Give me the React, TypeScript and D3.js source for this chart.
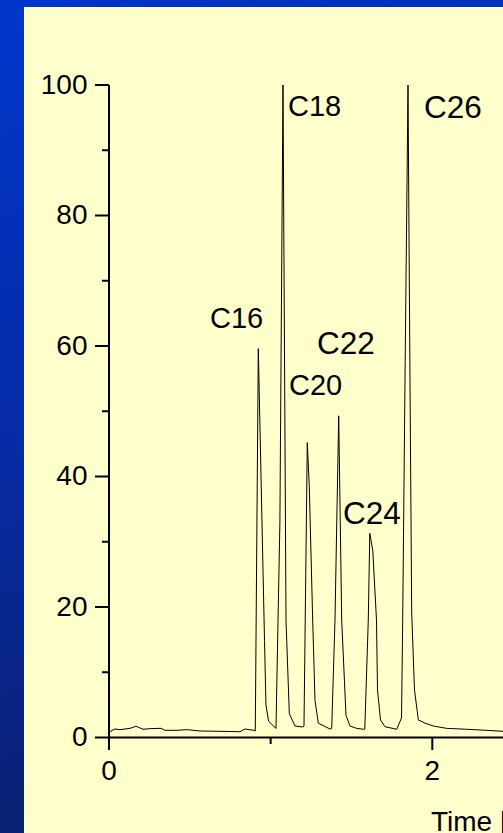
import React from "react";
import * as d3 from "d3";

// chromatogram trace
const times = [
  0.008, 0.0124, 0.0371, 0.068, 0.13, 0.167, 0.2103, 0.2536, 0.3217, 0.3464, 0.42, 0.482, 0.563, 0.68, 0.81,
  0.841, 0.897, 0.905, 0.9236, 0.962, 0.971, 0.987, 1.033, 1.0572, 1.0764, 1.095, 1.1154, 1.1506, 1.198,
  1.2063, 1.2267, 1.2391, 1.2601, 1.2743, 1.2948, 1.3672, 1.3777, 1.398, 1.421, 1.4395, 1.4661, 1.4909,
  1.5323, 1.5732, 1.5824, 1.604, 1.6133, 1.6319, 1.6548, 1.661, 1.6795, 1.7074, 1.7798, 1.8095, 1.8169,
  1.8311, 1.8497, 1.862, 1.8726, 1.8899, 1.9134, 1.9548, 2.0062, 2.089, 2.2128, 2.2951, 2.3569, 2.4374, 2.51,
];
const signal = [
  0.8, 1.0, 1.3, 1.2, 1.4, 1.72, 1.26, 1.35, 1.41, 1.1, 1.1, 1.2, 1.0, 0.95, 0.89,
  1.3, 1.1, 1.0, 59.6, 14.9, 5.0, 2.5, 1.4, 33, 100, 18, 3.66, 1.76, 1.61,
  1.76, 45.2, 38.4, 18, 5.7, 2.2, 1.3, 1.38, 18, 49.3, 18, 3.4, 1.76,
  1.4, 1.26, 1.26, 18, 31.3, 28.6, 18, 7.3, 2.7, 1.65, 1.26, 2.99, 18,
  54.8, 100, 54.8, 19, 7.3, 2.7, 2.2, 1.76, 1.4, 1.26, 1.15, 1.07, 0.95, 0.9,
];

const yMajor = [0, 20, 40, 60, 80, 100];
const yMinor = [10, 30, 50, 70, 90];
const xMajor = [0, 2];
const xMinor = [1];

const peakNames = ["C16", "C18", "C20", "C22", "C24", "C26"];
const peakLabelT = [0.6248, 1.107, 1.1135, 1.2867, 1.4475, 1.9486];
const peakLabelV = [62.8, 95.3, 52.5, 58.8, 32.7, 95.0];
const peakLabelBig = [false, false, false, true, true, true];

const W = 503;
const H = 833;
const font = "'Liberation Sans', Arial, Helvetica, sans-serif";

export default function App() {
  const x = d3.scaleLinear().domain([0, 2]).range([109, 432.3]);
  const y = d3.scaleLinear().domain([0, 100]).range([737.5, 85]);

  const pts = times.map((t, i) => [t, signal[i]] as [number, number]);
  const path = d3
    .line<[number, number]>()
    .x((d) => x(d[0]))
    .y((d) => y(d[1]))(pts);

  const x0 = x(0);
  const y0 = y(0);

  return (
    <svg
      width={W}
      height={H}
      style={{ position: "fixed", left: 0, top: 0, display: "block" }}
    >
      <defs>
        <linearGradient id="bg" x1="0" y1="0" x2="0.25" y2="1">
          <stop offset="0" stopColor="#0036cc" />
          <stop offset="0.5" stopColor="#062ba6" />
          <stop offset="1" stopColor="#0b1f6c" />
        </linearGradient>
        <clipPath id="panel">
          <rect x={24} y={7} width={W - 24} height={H - 7} />
        </clipPath>
      </defs>
      <rect x={0} y={0} width={W} height={H} fill="url(#bg)" />
      <rect x={24} y={7} width={W - 24} height={H - 7} fill="#ffffcc" />

      <g clipPath="url(#panel)" fontFamily={font} fill="#000">
        {/* trace */}
        <path d={path ?? ""} fill="none" stroke="#000" strokeWidth={1} />

        {/* y axis */}
        <line x1={x0} x2={x0} y1={y(100)} y2={y0} stroke="#000" strokeWidth={2} />
        {yMajor.map((v) => (
          <g key={"ym" + v}>
            <line x1={x0 - 14} x2={x0} y1={y(v)} y2={y(v)} stroke="#000" strokeWidth={2} />
            <text x={87.5} y={y(v) + 8.7} fontSize={28} textAnchor="end">
              {v}
            </text>
          </g>
        ))}
        {yMinor.map((v) => (
          <line key={"yn" + v} x1={x0 - 7} x2={x0} y1={y(v)} y2={y(v)} stroke="#000" strokeWidth={2} />
        ))}

        {/* x axis */}
        <line x1={x0} x2={W + 10} y1={y0} y2={y0} stroke="#000" strokeWidth={2} />
        {xMajor.map((t) => (
          <g key={"xm" + t}>
            <line x1={x(t)} x2={x(t)} y1={y0} y2={y0 + 12.5} stroke="#000" strokeWidth={2} />
            <text x={x(t)} y={780} fontSize={28} textAnchor="middle">
              {t}
            </text>
          </g>
        ))}
        {xMinor.map((t) => (
          <line key={"xn" + t} x1={x(t)} x2={x(t)} y1={y0} y2={y0 + 6.5} stroke="#000" strokeWidth={2} />
        ))}
        {/* cut off at the right edge, as in the reference */}
        <text x={431} y={830.5} fontSize={28}>
          Time [min]
        </text>

        {/* peak labels */}
        {peakNames.map((n, i) => (
          <text
            key={n}
            x={x(peakLabelT[i])}
            y={y(peakLabelV[i])}
            fontSize={peakLabelBig[i] ? 31.5 : 29}
          >
            {n}
          </text>
        ))}
      </g>
    </svg>
  );
}
